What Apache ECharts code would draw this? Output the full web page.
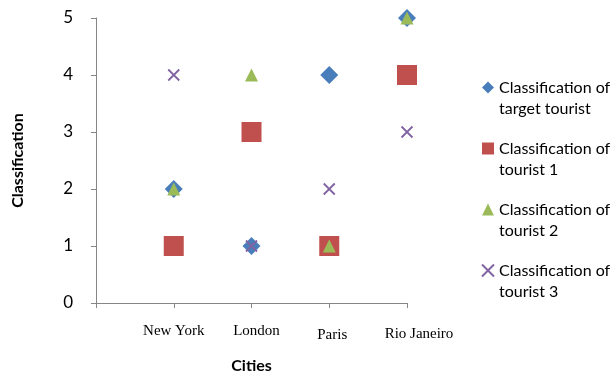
<!DOCTYPE html>
<html>
<head>
<meta charset="utf-8">
<script src="https://cdn.jsdelivr.net/npm/echarts@6/dist/echarts.min.js"></script>
<style>
  html, body { margin: 0; padding: 0; background: #fff; }
  #chart { width: 615px; height: 379px; }
</style>
</head>
<body>
<div id="chart"></div>
<script>
// Cities on the horizontal axis (positions 1..4)
const cities = ['New York', 'London', 'Paris', 'Rio Janeiro'];

// Classification of each tourist per city
const targetTourist = [2, 1, 4, 5];
const tourist1 = [1, 3, 1, 4];
const tourist2 = [2, 4, 1, 5];
const tourist3 = [4, 1, 2, 3];

const seriesNames = [
  'Classification of target tourist',
  'Classification of tourist 1',
  'Classification of tourist 2',
  'Classification of tourist 3'
];

const AXIS = '#868686';
const SANS = 'Lato';
const crossPath = 'path://M0,0L10,10M10,0L0,10';

const toPoints = vals => vals.map((v, i) => [i + 1, v]);

const chart = echarts.init(document.getElementById('chart'), null, { renderer: 'canvas' });

const labelRich = {
  c1: { fontFamily: 'Liberation Serif', fontSize: 15, color: '#000', padding: [0, 0, 0, 0] },
  c2: { fontFamily: 'Liberation Serif', fontSize: 15, color: '#000', padding: [0, 0, 2, 10] },
  c3: { fontFamily: 'Liberation Serif', fontSize: 15, color: '#000', padding: [4, 0, 0, 6] },
  c4: { fontFamily: 'Liberation Serif', fontSize: 15, color: '#000', padding: [3, 0, 0, 24] }
};

chart.setOption({
  animation: false,
  backgroundColor: '#fff',
  grid: { left: 96, right: 208, top: 18, bottom: 73, containLabel: false },
  xAxis: {
    type: 'value',
    min: 0,
    max: 4,
    interval: 1,
    name: 'Cities',
    nameLocation: 'middle',
    nameGap: 55,
    nameTextStyle: { fontFamily: SANS, fontSize: 16, fontWeight: 'bold', color: '#000' },
    axisLine: { show: true, lineStyle: { color: AXIS, width: 1 } },
    axisTick: { show: true, length: 5, lineStyle: { color: AXIS } },
    splitLine: { show: false },
    axisLabel: {
      margin: 21,
      formatter: v => (v >= 1 && v <= 4) ? '{c' + v + '|' + cities[v - 1] + '}' : '',
      rich: labelRich
    }
  },
  yAxis: {
    type: 'value',
    min: 0,
    max: 5,
    interval: 1,
    name: 'Classification',
    nameLocation: 'middle',
    nameGap: 70,
    nameTextStyle: { fontFamily: SANS, fontSize: 16, fontWeight: 'bold', color: '#000' },
    axisLine: { show: true, lineStyle: { color: AXIS, width: 1 } },
    axisTick: { show: true, length: 5, lineStyle: { color: AXIS } },
    splitLine: { show: false },
    axisLabel: { margin: 23, fontFamily: SANS, fontSize: 17, color: '#000' }
  },
  legend: {
    orient: 'vertical',
    left: 481,
    top: 56,
    itemWidth: 12,
    itemHeight: 12,
    itemGap: -2,
    padding: 0,
    formatter: name => '\n' + name.replace(' of ', ' of\n'),
    textStyle: { fontFamily: SANS, fontSize: 16, lineHeight: 21, color: '#000' },
    data: [
      { name: seriesNames[0], icon: 'diamond' },
      { name: seriesNames[1], icon: 'rect' },
      { name: seriesNames[2], icon: 'triangle' },
      { name: seriesNames[3], icon: crossPath }
    ]
  },
  series: [
    {
      name: seriesNames[0], type: 'scatter', symbol: 'diamond', symbolSize: 18,
      itemStyle: { color: '#4A7EBB', opacity: 1 },
      data: toPoints(targetTourist)
    },
    {
      name: seriesNames[1], type: 'scatter', symbol: 'rect', symbolSize: 20,
      itemStyle: { color: '#C0504D', opacity: 1 },
      data: toPoints(tourist1)
    },
    {
      name: seriesNames[2], type: 'scatter', symbol: 'triangle', symbolSize: 13,
      itemStyle: { color: '#9BBB59', opacity: 1 },
      data: toPoints(tourist2)
    },
    {
      name: seriesNames[3], type: 'scatter', symbol: crossPath, symbolSize: 11,
      itemStyle: { color: '#8064A2', borderColor: '#8064A2', borderWidth: 1.8, opacity: 1 },
      data: toPoints(tourist3)
    }
  ]
});
</script>
</body>
</html>
